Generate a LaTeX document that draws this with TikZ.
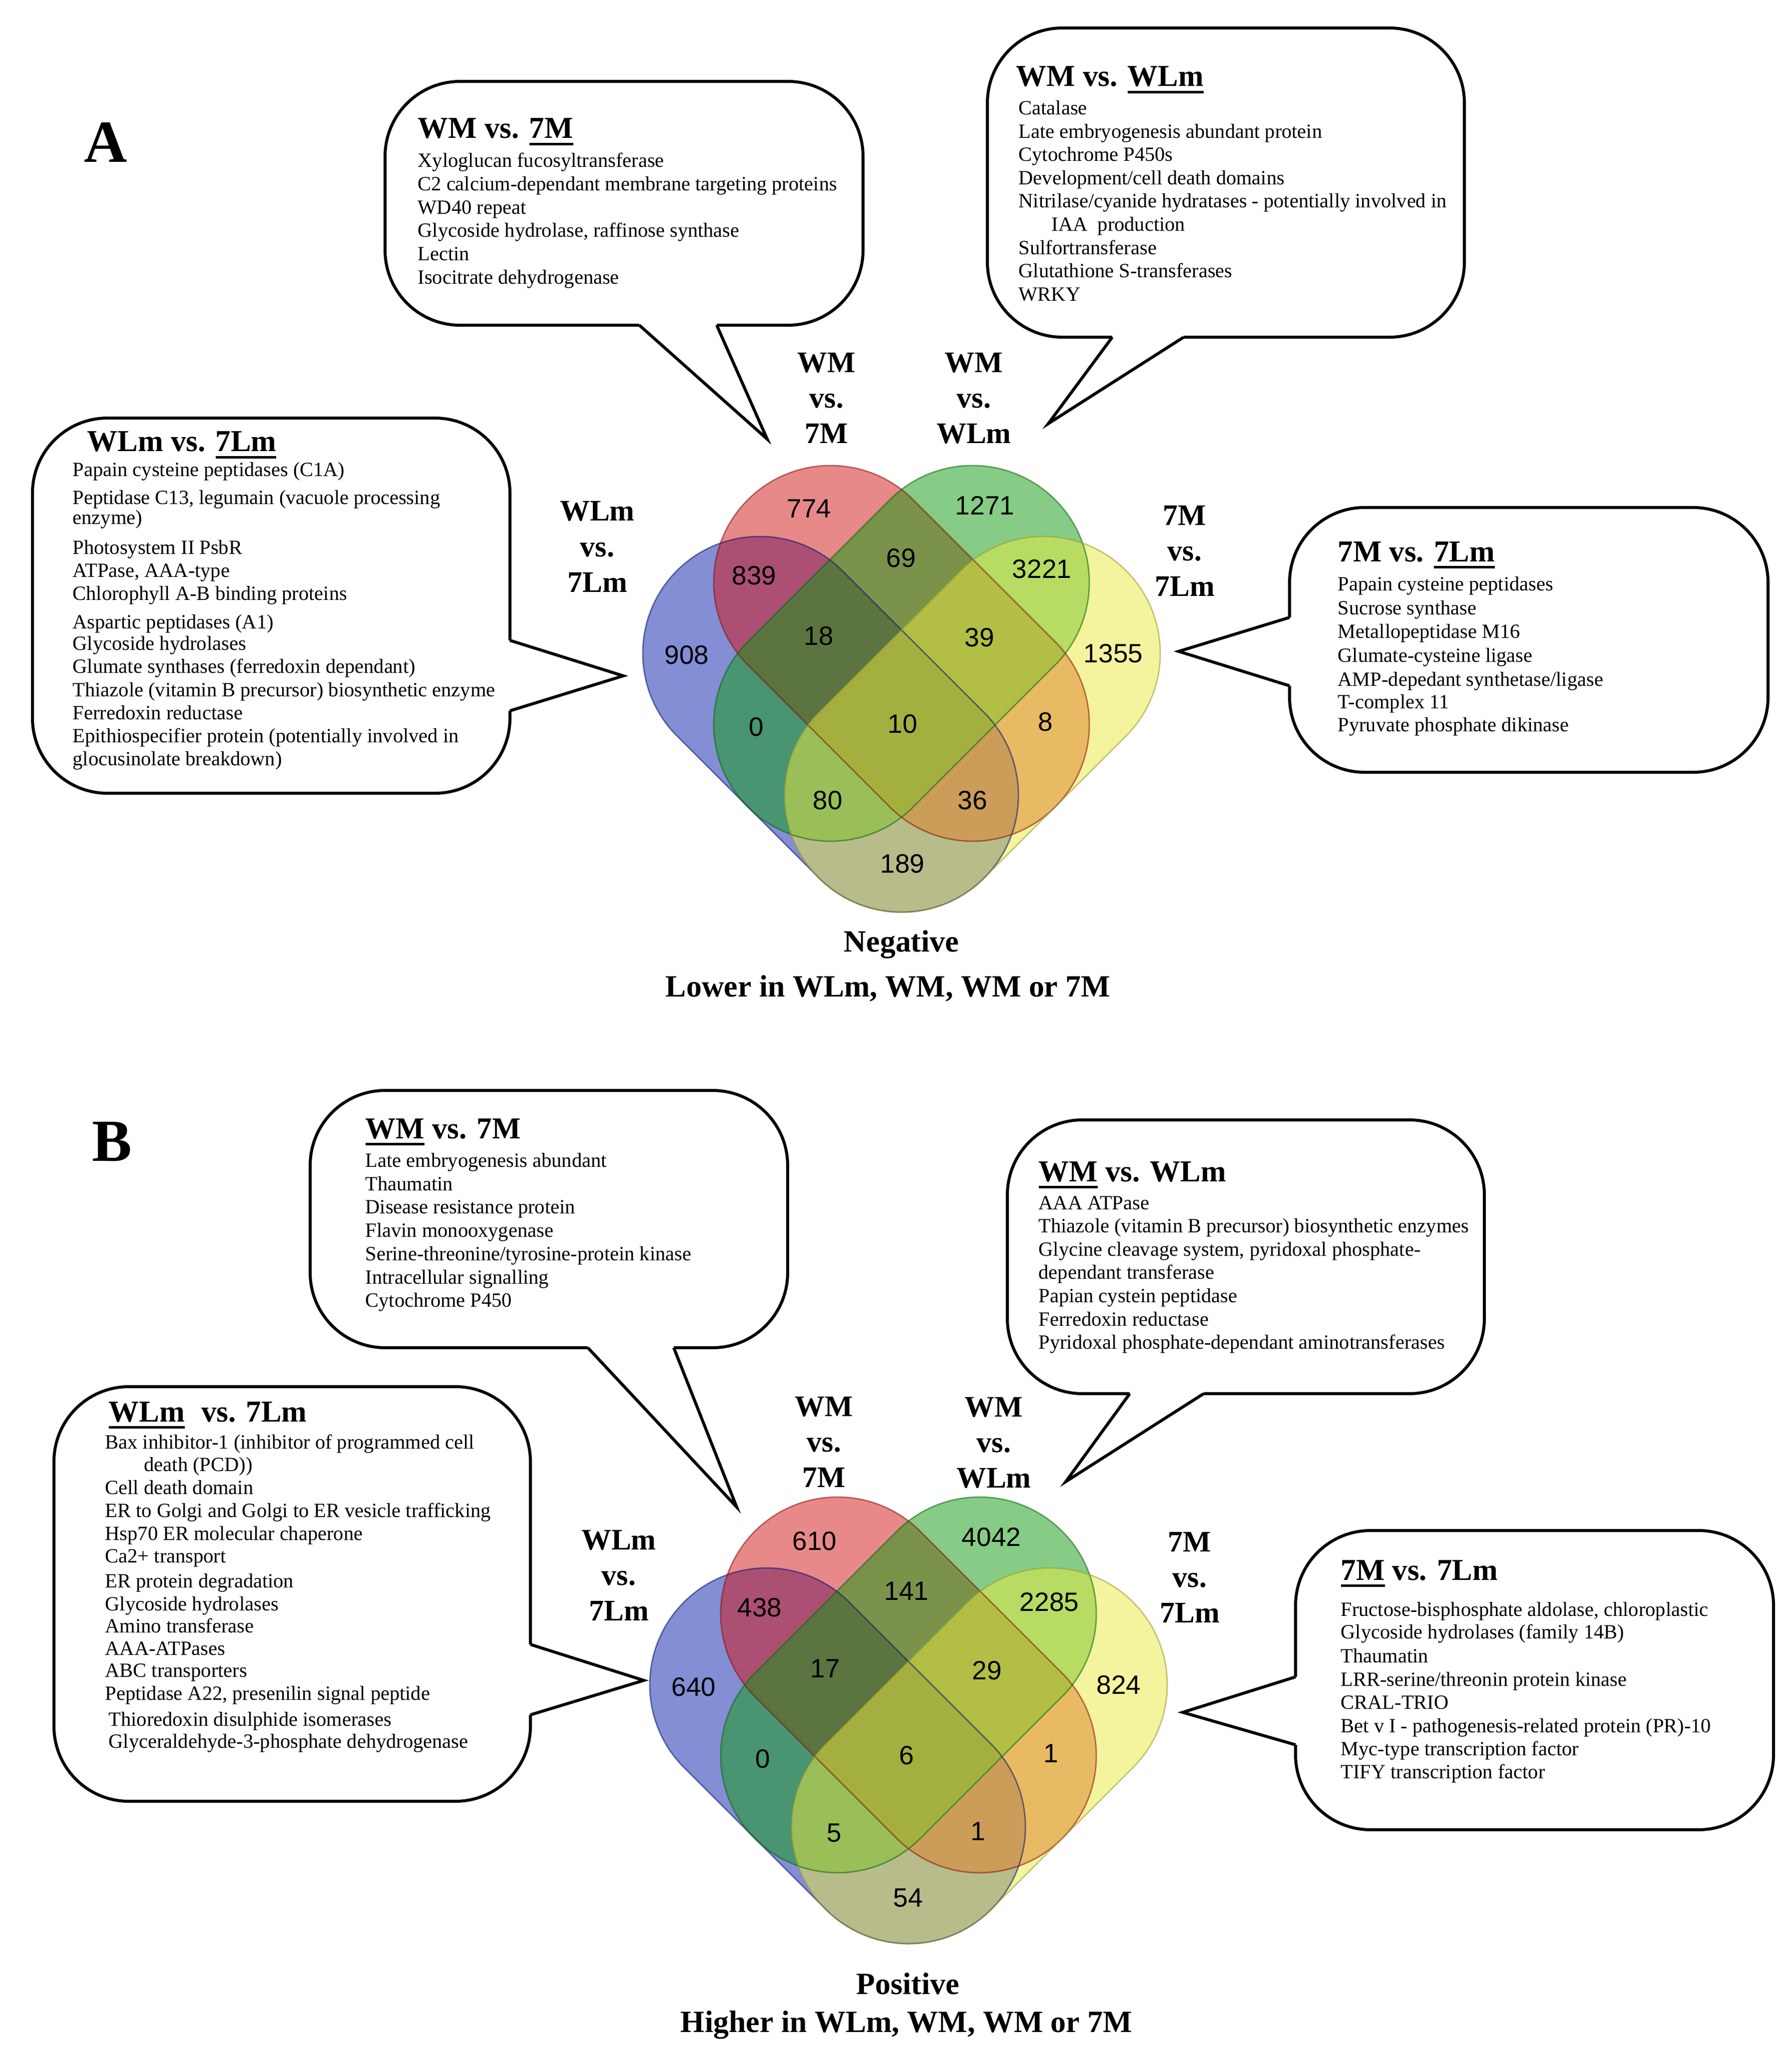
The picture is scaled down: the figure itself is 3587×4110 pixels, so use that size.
\documentclass[tikz,border=0pt]{standalone}
\usepackage{fontspec}
\setmainfont{Liberation Serif}
\newfontfamily\numf{Liberation Sans}
\usetikzlibrary{calc}
\definecolor{vblue}{RGB}{10,30,170}
\definecolor{vred}{RGB}{210,20,20}
\definecolor{vgreen}{RGB}{15,155,15}
\definecolor{vyellow}{RGB}{235,235,65}
\newcommand\thickul[1]{\setbox0=\hbox{#1}\rlap{\rule[-4pt]{\wd0}{1.4pt}}\box0\relax}
\newcommand\callout[7]{%
  \draw[callbox] #2 rectangle #3;
  \coordinate (#1b1) at #4; \coordinate (#1t) at #5; \coordinate (#1b2) at #6;
  \fill[white] ($(#1b1)+#7$) -- (#1b1) -- (#1t) -- (#1b2) -- ($(#1b2)+#7$) -- cycle;
  \draw[tail] (#1b1) -- (#1t) -- (#1b2);}
\newcommand\vlab[5]{%
  \node[lab] (#1a) at (#2,#3) {#4};
  \node[lab] (#1b) at (#2,#3+71) {vs.};
  \node[lab] (#1c) at (#2,#3+142) {#5};}
% capsule: style, centre x, centre y, angle  (half length 435, half width 234)
\newcommand\capsule[4]{%
  \path[#1,rotate around={#4:(#2,#3)},rounded corners=2.34cm] (#2-435,#3-234) rectangle (#2+435,#3+234);}
\newcommand\vennpic[2]{%
  \begin{scope}[shift={(#1,#2)}]
    \capsule{vfill=vblue}{-142}{142}{-45}
    \capsule{vfill=vred}{0}{0}{-45}
    \capsule{vfill=vgreen}{0}{0}{45}
    \capsule{vfill=vyellow}{142}{142}{45}
    \capsule{vline=vblue}{-142}{142}{-45}
    \capsule{vline=vred}{0}{0}{-45}
    \capsule{vline=vgreen}{0}{0}{45}
    \capsule{vline=vyellow}{142}{142}{45}
  \end{scope}}
\begin{document}
\begin{tikzpicture}[x=0.01cm,y=-0.01cm,
  callbox/.style={draw=black,line width=1.7pt,fill=white,rounded corners=1.5cm},
  tail/.style={draw=black,line width=1.7pt,line join=miter},
  body/.style={anchor=base west,inner sep=0pt,font=\fontsize{11.5}{13.3}\selectfont},
  ttl/.style={anchor=base west,inner sep=0pt,font=\bfseries\fontsize{17.3}{20}\selectfont},
  lab/.style={anchor=base,inner sep=0pt,font=\bfseries\fontsize{17}{20}\selectfont},
  capt/.style={anchor=base,inner sep=0pt,font=\bfseries\fontsize{17.6}{21}\selectfont},
  num/.style={inner sep=0pt,font=\numf\fontsize{15.1}{18}\selectfont},
  letter/.style={anchor=base west,inner sep=0pt,font=\bfseries\fontsize{34}{40}\selectfont},
  vfill/.style={fill=#1,fill opacity=0.5},
  vline/.style={draw=#1!65!black,line width=0.8pt,draw opacity=0.55},
]
\fill[white] (0,0) rectangle (3587,4110);
\useasboundingbox (0,0) rectangle (3587,4110);

% ---------- callouts ----------
\callout{cA1}{(771,163)}{(1728,651)}{(1280,651)}{(1536,879)}{(1435,651)}{(0,-8)}
\callout{cA2}{(1977,56)}{(2932,675)}{(2227,675)}{(2099,848)}{(2370,675)}{(0,-8)}
\callout{cA3}{(65,837)}{(1021,1588)}{(1021,1282)}{(1248,1353)}{(1021,1423)}{(-8,0)}
\callout{cA4}{(2582,1016)}{(3540,1546)}{(2582,1236)}{(2360,1304)}{(2582,1373)}{(8,0)}
\callout{cB1}{(621,2183)}{(1577,2698)}{(1177,2698)}{(1475,3017)}{(1349,2698)}{(0,-8)}
\callout{cB2}{(2017,2242)}{(2972,2790)}{(2262,2790)}{(2134,2966)}{(2410,2790)}{(0,-8)}
\callout{cB3}{(108,2776)}{(1062,3606)}{(1062,3292)}{(1289,3364)}{(1062,3433)}{(-8,0)}
\callout{cB4}{(2594,3064)}{(3551,3663)}{(2594,3357)}{(2368,3428)}{(2594,3493)}{(8,0)}

% ---------- titles ----------
\node[ttl] (tA1) at (836,277) {WM vs. \thickul{7M}};
\node[ttl] (tA2) at (2034,173) {WM vs. \thickul{WLm}};
\node[ttl] (tA3) at (174,904) {WLm vs. \thickul{7Lm}};
\node[ttl] (tA4) at (2678,1124) {7M vs. \thickul{7Lm}};
\node[ttl] (tB1) at (731,2279) {\thickul{WM} vs. 7M};
\node[ttl] (tB2) at (2079,2365) {\thickul{WM} vs. WLm};
\node[ttl] (tB3) at (217,2846) {\thickul{WLm}\hspace{0.3em} vs. 7Lm};
\node[ttl] (tB4) at (2684,3163) {\thickul{7M} vs. 7Lm};

% ---------- body texts ----------
\foreach \xx/\yy/\lin [count=\i] in {
  836/335/{Xyloglucan fucosyltransferase},
  836/382/{C2 calcium-dependant membrane targeting proteins},
  836/429/{WD40 repeat},
  836/475/{Glycoside hydrolase, raffinose synthase},
  836/522/{Lectin},
  836/569/{Isocitrate dehydrogenase}}
  \node[body] (A1-\i) at (\xx,\yy) {\lin};
\foreach \xx/\yy/\lin [count=\i] in {
  2039/230/{Catalase},
  2039/277/{Late embryogenesis abundant protein},
  2039/323/{Cytochrome P450s},
  2039/370/{Development/cell death domains},
  2039/416/{Nitrilase/cyanide hydratases - potentially involved in},
  2105/463/{IAA\ \ production},
  2039/510/{Sulfortransferase},
  2039/556/{Glutathione S-transferases},
  2039/603/{WRKY}}
  \node[body] (A2-\i) at (\xx,\yy) {\lin};
\foreach \xx/\yy/\lin [count=\i] in {
  145/954/{Papain cysteine peptidases (C1A)},
  145/1009/{Peptidase C13, legumain (vacuole processing},
  145/1049/{enzyme)},
  145/1109/{Photosystem II PsbR},
  145/1155/{ATPase, AAA-type},
  145/1201/{Chlorophyll A-B binding proteins},
  145/1258/{Aspartic peptidases (A1)},
  145/1301/{Glycoside hydrolases},
  145/1347/{Glumate synthases (ferredoxin dependant)},
  145/1394/{Thiazole (vitamin B precursor) biosynthetic enzyme},
  145/1440/{Ferredoxin reductase},
  145/1486/{Epithiospecifier protein (potentially involved in},
  145/1532/{glocusinolate breakdown)}}
  \node[body] (A3-\i) at (\xx,\yy) {\lin};
\foreach \xx/\yy/\lin [count=\i] in {
  2678/1182/{Papain cysteine peptidases},
  2678/1230/{Sucrose synthase},
  2678/1277/{Metallopeptidase M16},
  2678/1325/{Glumate-cysteine ligase},
  2678/1373/{AMP-depedant synthetase/ligase},
  2678/1418/{T-complex 11},
  2678/1464/{Pyruvate phosphate dikinase}}
  \node[body] (A4-\i) at (\xx,\yy) {\lin};
\foreach \xx/\yy/\lin [count=\i] in {
  731/2336/{Late embryogenesis abundant},
  731/2383/{Thaumatin},
  731/2429/{Disease resistance protein},
  731/2476/{Flavin monooxygenase},
  731/2523/{Serine-threonine/tyrosine-protein kinase},
  731/2570/{Intracellular signalling},
  731/2616/{Cytochrome P450}}
  \node[body] (B1-\i) at (\xx,\yy) {\lin};
\foreach \xx/\yy/\lin [count=\i] in {
  2079/2421/{AAA ATPase},
  2079/2467/{Thiazole (vitamin B precursor) biosynthetic enzymes},
  2079/2514/{Glycine cleavage system, pyridoxal phosphate-},
  2079/2560/{dependant transferase},
  2079/2607/{Papian cystein peptidase},
  2079/2654/{Ferredoxin reductase},
  2079/2700/{Pyridoxal phosphate-dependant aminotransferases}}
  \node[body] (B2-\i) at (\xx,\yy) {\lin};
\foreach \xx/\yy/\lin [count=\i] in {
  210/2900/{Bax inhibitor-1 (inhibitor of programmed cell},
  288/2945/{death (PCD))},
  210/2991/{Cell death domain},
  210/3037/{ER to Golgi and Golgi to ER vesicle trafficking},
  210/3083/{Hsp70 ER molecular chaperone},
  210/3128/{Ca2+ transport},
  210/3178/{ER protein degradation},
  210/3224/{Glycoside hydrolases},
  210/3268/{Amino transferase},
  210/3313/{AAA-ATPases},
  210/3357/{ABC transporters},
  210/3403/{Peptidase A22, presenilin signal peptide},
  217/3455/{Thioredoxin disulphide isomerases},
  217/3499/{Glyceraldehyde-3-phosphate dehydrogenase}}
  \node[body] (B3-\i) at (\xx,\yy) {\lin};
\foreach \xx/\yy/\lin [count=\i] in {
  2684/3235/{Fructose-bisphosphate aldolase, chloroplastic},
  2684/3280/{Glycoside hydrolases (family 14B)},
  2684/3328/{Thaumatin},
  2684/3375/{LRR-serine/threonin protein kinase},
  2684/3421/{CRAL-TRIO},
  2684/3468/{Bet v I - pathogenesis-related protein (PR)-10},
  2684/3514/{Myc-type transcription factor},
  2684/3560/{TIFY transcription factor}}
  \node[body] (B4-\i) at (\xx,\yy) {\lin};

% ---------- Venn diagrams ----------
\vennpic{1805}{1308}
\vennpic{1819}{3373}

\foreach \xx/\yy/\nn [count=\i] in {
  1620/1018/774, 1972/1012/1271, 1510/1152/839, 1804/1117/69, 2086/1139/3221,
  1375/1311/908, 1639/1273/18, 1961/1276/39, 2229/1308/1355,
  1514/1455/0, 1807/1449/10, 2093/1445/8, 1657/1602/80, 1947/1602/36, 1807/1729/189}
  \node[num] (nA\i) at (\xx,\yy) {\nn};
\foreach \xx/\yy/\nn [count=\i] in {
  1631/3085/610, 1985/3077/4042, 1521/3218/438, 1815/3185/141, 2101/3207/2285,
  1389/3377/640, 1652/3340/17, 1976/3344/29, 2240/3373/824,
  1527/3521/0, 1815/3514/6, 2104/3510/1, 1670/3669/5, 1958/3666/1, 1818/3799/54}
  \node[num] (nB\i) at (\xx,\yy) {\nn};

% ---------- set labels ----------
\vlab{LA1}{1655}{746}{WM}{7M}
\vlab{LA2}{1950}{746}{WM}{WLm}
\vlab{LA3}{1196}{1043}{WLm}{7Lm}
\vlab{LA4}{2372}{1051}{7M}{7Lm}
\vlab{LB1}{1650}{2835}{WM}{7M}
\vlab{LB2}{1990}{2836}{WM}{WLm}
\vlab{LB3}{1239}{3102}{WLm}{7Lm}
\vlab{LB4}{2382}{3106}{7M}{7Lm}

% ---------- panel letters and captions ----------
\node[letter] (pA) at (168,325) {A};
\node[letter] (pB) at (184,2324) {B};
\node[capt] (negA) at (1805,1905) {Negative};
\node[capt] (lowA) at (1778,1995) {Lower in WLm, WM, WM or 7M};
\node[capt] (posB) at (1818,3992) {Positive};
\node[capt] (higB) at (1815,4068) {Higher in WLm, WM, WM or 7M};
\end{tikzpicture}
\end{document}
